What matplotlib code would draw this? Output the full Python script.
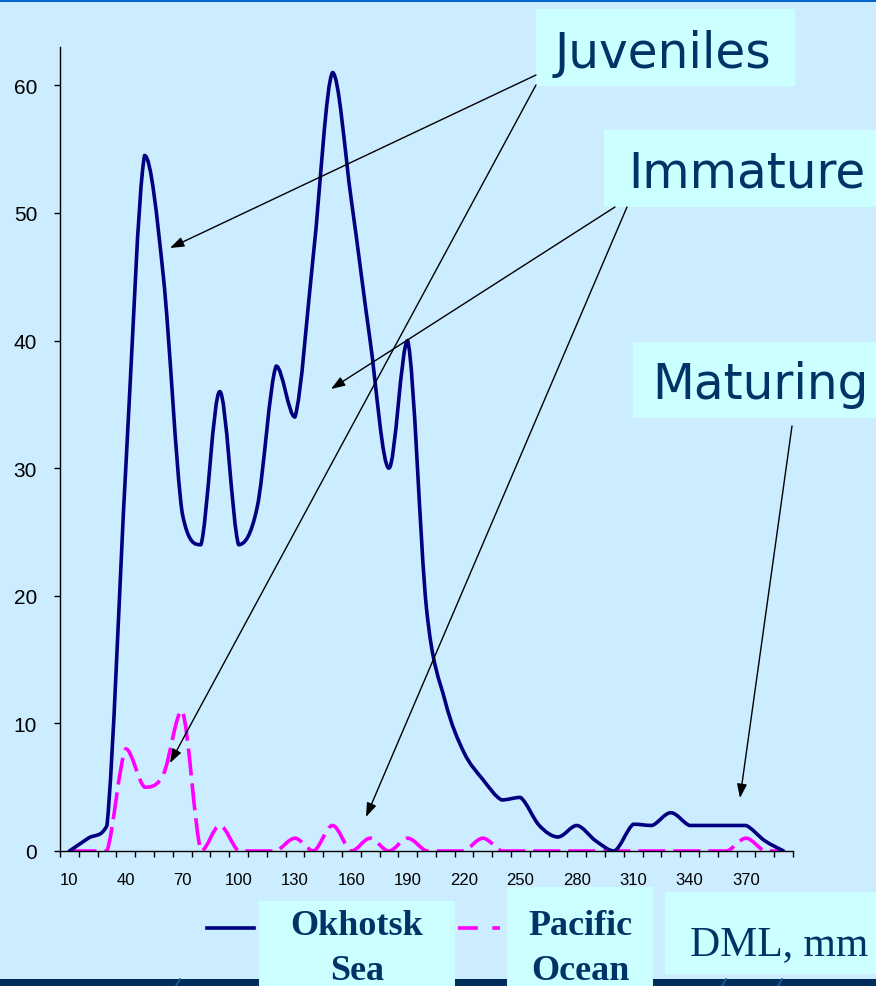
import numpy as np
import matplotlib
matplotlib.use("Agg")
import matplotlib.pyplot as plt
from matplotlib.path import Path
from matplotlib.patches import PathPatch, Rectangle, FancyArrowPatch
from matplotlib.lines import Line2D

# ---------------- data ----------------
dml = list(range(10, 400, 10))  # DML classes, mm
okhotsk = [0, 1.0, 2.0, 30, 54.5, 45, 26.5, 24, 36, 24,
           27, 38, 34, 47, 61, 51, 40, 30, 40, 19,
           11.7, 7.7, 5.6, 4.0, 4.2, 2.0, 1.1, 2.0, 0.8, 0,
           2.1, 2.0, 3.0, 2.0, 2.0, 2.0, 2.0, 0.8, 0]
pacific = [0, 0, 0, 8, 5, 6, 11, 0, 2, 0,
           0, 0, 1, 0, 2, 0, 1, 0, 1, 0,
           0, 0, 1, 0, 0, 0, 0, 0, 0, 0,
           0, 0, 0, 0, 0, 0, 1, 0, 0]
xtick_labels = [10, 40, 70, 100, 130, 160, 190, 220, 250, 280, 310, 340, 370]
yticks = [0, 10, 20, 30, 40, 50, 60]
series_names = ["Okhotsk\nSea", "Pacific\nOcean"]
stage_labels = ["Juveniles", "Immature", "Maturing"]
axis_label = "DML, mm"

# ---------------- style ----------------
W, H = 876, 987
BG = "#CCECFF"
BOX = "#CCFFFF"
TXT = "#003366"
NAVY = "#000080"
MAG = "#FF00FF"


def fx(x):
    return x / W


def fy(y):
    return 1 - y / H


def smooth_path(xs, ys, k=1 / 6.0):
    """Smoothed line (Catmull-Rom as cubic Bezier, no overshoot)."""
    pts = np.column_stack([xs, ys]).astype(float)
    n = len(pts)
    verts = [pts[0]]
    codes = [Path.MOVETO]
    for i in range(n - 1):
        p0 = pts[i - 1] if i > 0 else pts[i]
        p1 = pts[i]
        p2 = pts[i + 1]
        p3 = pts[i + 2] if i + 2 < n else pts[i + 1]
        c1 = p1 + (p2 - p0) * k
        c2 = p2 - (p3 - p1) * k
        lo, hi = min(p1[1], p2[1]), max(p1[1], p2[1])
        c1[1] = np.clip(c1[1], lo, hi)
        c2[1] = np.clip(c2[1], lo, hi)
        verts += [c1, c2, p2]
        codes += [Path.CURVE4] * 3
    return Path(verts, codes)


fig = plt.figure(figsize=(W / 100, H / 100), dpi=100)
fig.patch.set_facecolor(BG)

# top band and bottom band
fig.add_artist(Rectangle((0, fy(3)), 1, 3 / H, transform=fig.transFigure,
                         facecolor="#0066CC", edgecolor="none", zorder=0))
fig.add_artist(Rectangle((0, 0), 1, 7 / H, transform=fig.transFigure,
                         facecolor="#002E5C", edgecolor="none", zorder=0))
for x0, x1 in [(176, 180), (372, 377), (722, 726), (778, 782)]:
    fig.add_artist(Line2D([fx(x0), fx(x1)], [fy(987), fy(980)], transform=fig.transFigure,
                          color="#1F5F9A", lw=1.2, zorder=0.5))

ax = fig.add_axes([fx(60), fy(852), (793 - 60) / W, (852 - 48) / H])
ax.set_facecolor("none")

ax.add_patch(PathPatch(smooth_path(dml, okhotsk), facecolor="none", edgecolor=NAVY,
                       lw=2.6, zorder=3, capstyle="round", joinstyle="round"))
pp = PathPatch(smooth_path(dml, pacific), facecolor="none", edgecolor=MAG,
               lw=2.6, zorder=2)
pp.set_linestyle((0, (7.5, 2.2)))
ax.add_patch(pp)

ax.set_xlim(5, 395)
ax.set_ylim(0, 63)
ax.set_yticks(yticks)
ax.set_yticklabels([str(v) for v in yticks], fontsize=15, family="Liberation Sans")
ax.set_xticks(xtick_labels)
ax.set_xticklabels([str(v) for v in xtick_labels], fontsize=12, family="Liberation Sans")
ax.set_xticks(np.arange(5, 400, 10), minor=True)
ax.tick_params(axis="x", which="major", length=0, pad=15)
ax.tick_params(axis="x", which="minor", length=4.5, width=1, direction="out")
ax.tick_params(axis="y", which="major", length=4.5, width=1, pad=12)
for s in ["top", "right"]:
    ax.spines[s].set_visible(False)
for s in ["left", "bottom"]:
    ax.spines[s].set_linewidth(1)
    ax.spines[s].set_color("black")

# stage labels (boxes)
boxes = [(536, 10, 795, 87, 555, 68), (604, 131, 876, 208, 628, 188),
         (633, 343, 876, 419, 652, 399)]
for (x0, y0, x1, y1, tx, ty), lab in zip(boxes, stage_labels):
    fig.add_artist(Rectangle((fx(x0), fy(y1)), (x1 - x0) / W, (y1 - y0) / H,
                             transform=fig.transFigure, facecolor=BOX, edgecolor="none", zorder=4))
    fig.text(fx(tx), fy(ty), lab, fontsize=35, family="DejaVu Sans", color=TXT,
             ha="left", va="baseline", zorder=5)

# arrows
arrows = [((536, 76), (170, 249)), ((536, 86), (170, 764)),
          ((615, 208), (331, 390)), ((627, 208), (366, 818)),
          ((792, 427), (740, 799))]
for (xa, ya), (xb, yb) in arrows:
    fig.add_artist(FancyArrowPatch((fx(xa), fy(ya)), (fx(xb), fy(yb)),
                                   transform=fig.transFigure,
                                   arrowstyle="-|>,head_length=0.7,head_width=0.25",
                                   mutation_scale=12, lw=1, color="black",
                                   shrinkA=0, shrinkB=0, zorder=6))

# legend
fig.add_artist(Line2D([fx(207), fx(254)], [fy(929), fy(929)], transform=fig.transFigure,
                      color=NAVY, lw=2.6, zorder=3))
fig.add_artist(Line2D([fx(458), fx(500)], [fy(929), fy(929)], transform=fig.transFigure,
                      color=MAG, lw=2.6, linestyle=(0, (5.5, 4)), zorder=3))
legend_boxes = [(259, 902, 455, 987, 357), (507, 888, 653, 987, 580)]
for (x0, y0, x1, y1, cx), name in zip(legend_boxes, series_names):
    fig.add_artist(Rectangle((fx(x0), fy(y1)), (x1 - x0) / W, (y1 - y0) / H,
                             transform=fig.transFigure, facecolor=BOX, edgecolor="none", zorder=4))
    top, bottom = name.split("\n")
    fig.text(fx(cx), fy(935), top, fontsize=26, family="Liberation Serif", weight="bold",
             color=TXT, ha="center", va="baseline", zorder=5)
    fig.text(fx(cx), fy(980), bottom, fontsize=26, family="Liberation Serif", weight="bold",
             color=TXT, ha="center", va="baseline", zorder=5)

fig.add_artist(Rectangle((fx(665), fy(975)), (876 - 665) / W, (975 - 893) / H,
                         transform=fig.transFigure, facecolor=BOX, edgecolor="none", zorder=4))
fig.text(fx(690), fy(955), axis_label, fontsize=30, family="Liberation Serif",
         color=TXT, ha="left", va="baseline", zorder=5)

fig.savefig("out.png", dpi=100, facecolor=BG)
